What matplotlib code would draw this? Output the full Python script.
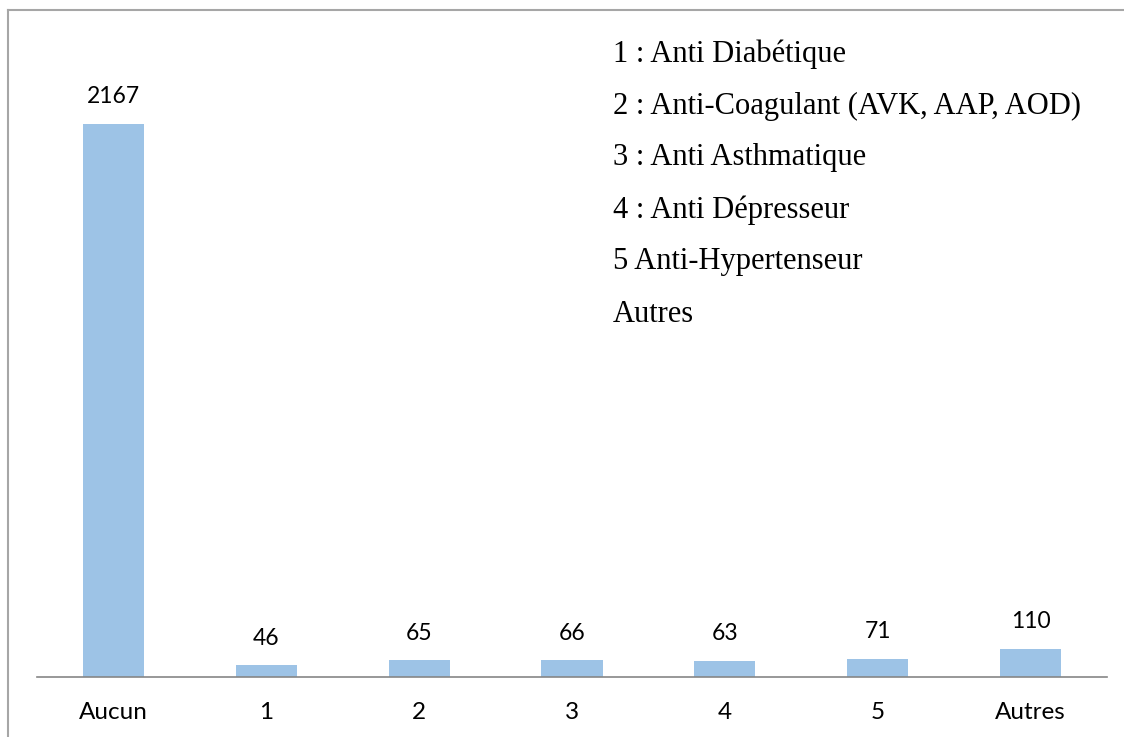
import matplotlib
matplotlib.use('Agg')
import matplotlib.pyplot as plt
from matplotlib.lines import Line2D

categories = ['Aucun', '1', '2', '3', '4', '5', 'Autres']
counts = [2167, 46, 65, 66, 63, 71, 110]
legend_lines = [
    '1 : Anti Diabétique',
    '2 : Anti-Coagulant (AVK, AAP, AOD)',
    '3 : Anti Asthmatique',
    '4 : Anti Dépresseur',
    '5 Anti-Hypertenseur',
    'Autres',
]

W, H = 1124, 737
fig = plt.figure(figsize=(W / 100, H / 100), dpi=100)
ax = fig.add_axes([37 / W, 1 - 677 / H, (1107 - 37) / W, (677 - 10) / H])

x = range(len(categories))
ax.bar(x, counts, width=0.4, color='#9DC3E6', edgecolor='none')
ax.set_xlim(-0.5, len(categories) - 0.5)
ax.set_ylim(0, 2613)

for i, v in enumerate(counts):
    ax.annotate(str(v), (i, v), xytext=(0, 19.5), textcoords='offset points',
                ha='center', va='center', fontsize=16.5, family='Lato', color='#000000')

ax.set_xticks(list(x))
ax.set_xticklabels(categories, fontsize=17.5, family='Lato')
ax.tick_params(axis='x', length=0, pad=18)
ax.set_yticks([])
for s in ['top', 'right', 'left']:
    ax.spines[s].set_visible(False)
ax.spines['bottom'].set_color('#868686')
ax.spines['bottom'].set_linewidth(1.2)

# chart frame (only left and top edges remain in the crop)
fig.add_artist(Line2D([8 / W, 8 / W], [0, 1 - 10 / H], color='#A6A6A6', lw=1.5))
fig.add_artist(Line2D([8 / W, 1], [1 - 10 / H, 1 - 10 / H], color='#A6A6A6', lw=1.5))

y0 = 54
for k, line in enumerate(legend_lines):
    fig.text(613 / W, 1 - (y0 + 52 * k) / H, line, fontsize=22, family='Liberation Serif',
             va='center', ha='left', color='#000000')

fig.savefig('out.png', dpi=100)
